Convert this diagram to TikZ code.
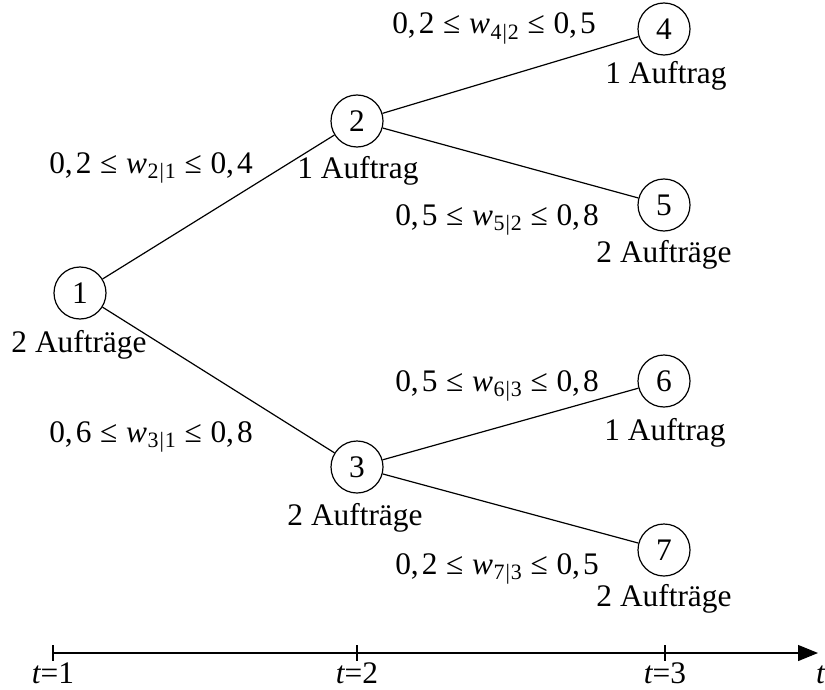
\documentclass[tikz,border=0pt]{standalone}
\usepackage{fontspec}
\setmainfont{Liberation Serif}
\usetikzlibrary{arrows.meta}
\newcommand{\wsub}[2]{{\itshape w}\kern0.5pt\raisebox{-0.35ex}{\fontsize{22}{24}\selectfont #1\kern1pt|\kern1pt#2}}
\newcommand{\bnd}[4]{0,\kern3pt#1\;≤\;\wsub{#2}{#3}\;≤\;0,\kern3pt#4}
\begin{document}
\begin{tikzpicture}[x=1bp,y=-1bp,
  every node/.style={font=\fontsize{31.5}{36}\selectfont, inner sep=0pt},
  stnode/.style={draw, circle, minimum size=52bp, line width=1.2bp},
  edge/.style={line width=1.2bp},
  lbl/.style={anchor=base}]
\useasboundingbox (0,0) rectangle (825,690);
\node[stnode] (n1) at (80,293) {1};
\node[stnode] (n2) at (357,121) {2};
\node[stnode] (n3) at (357,467) {3};
\node[stnode] (n4) at (664,29) {4};
\node[stnode] (n5) at (664,205) {5};
\node[stnode] (n6) at (664,381) {6};
\node[stnode] (n7) at (664,550) {7};
\draw[edge] (n1) -- (n2);
\draw[edge] (n1) -- (n3);
\draw[edge] (n2) -- (n4);
\draw[edge] (n2) -- (n5);
\draw[edge] (n3) -- (n6);
\draw[edge] (n3) -- (n7);
\node[lbl] (a1) at (79,352) {2 Aufträge};
\node[lbl] (a2) at (358,178) {1 Auftrag};
\node[lbl] (a3) at (355,525) {2 Aufträge};
\node[lbl] (a4) at (666,84) {1 Auftrag};
\node[lbl] (a5) at (664,262) {2 Aufträge};
\node[lbl] (a6) at (665,440) {1 Auftrag};
\node[lbl] (a7) at (664,606) {2 Aufträge};
\node[lbl] (e12) at (151,173) {\bnd{2}{2}{1}{4}};
\node[lbl] (e13) at (151,442) {\bnd{6}{3}{1}{8}};
\node[lbl] (e24) at (494,34) {\bnd{2}{4}{2}{5}};
\node[lbl] (e25) at (497,225) {\bnd{5}{5}{2}{8}};
\node[lbl] (e36) at (497,391) {\bnd{5}{6}{3}{8}};
\node[lbl] (e37) at (497,574) {\bnd{2}{7}{3}{5}};
\coordinate (ax0) at (53,653);
\coordinate (ax1) at (818,653);
\draw[edge,-{Triangle[length=20bp,width=16bp]}] (ax0) -- (ax1);
\foreach \x/\n in {53/1,357/2,665/3}{
  \draw[line width=1.2bp] (\x,645) -- (\x,661);
  \node[lbl] (t\n) at (\x,683) {{\itshape t}=\n};
}
\node[anchor=base west] (tt) at (816,683) {\itshape t};
\end{tikzpicture}
\end{document}
